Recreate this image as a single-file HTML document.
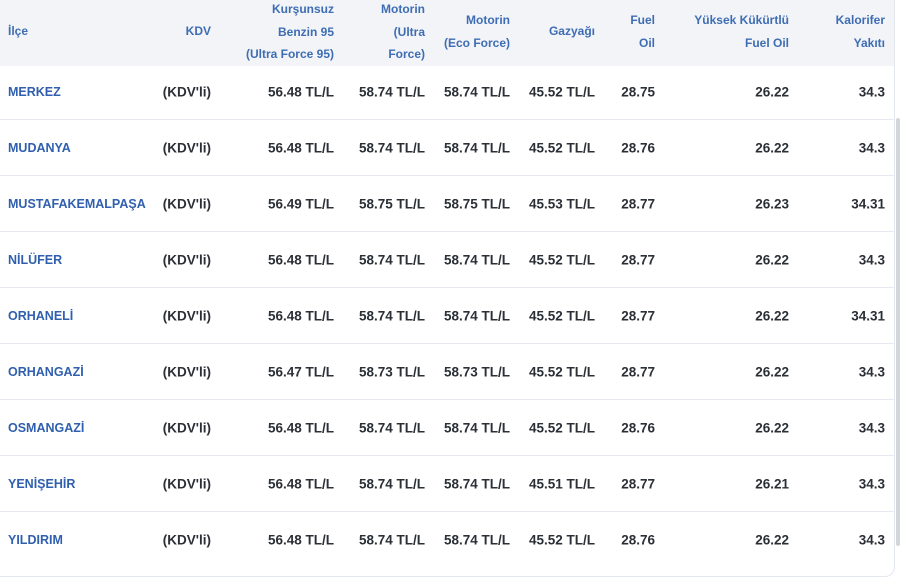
<!DOCTYPE html>
<html><head><meta charset="utf-8"><style>
body{margin:0;width:900px;height:578px;background:#fff;font-family:"Liberation Sans",sans-serif;overflow:hidden;position:relative}
.wrap{position:absolute;left:0;top:-10px;width:894px;height:585px;border:1px solid #e3e7ee;border-left:none;border-radius:0 10px 10px 0;overflow:hidden}
.hdr{position:absolute;left:0;top:0;width:900px;height:75px;background:#f2f4f8}
.t{position:absolute;font-size:12.5px;font-weight:bold;white-space:nowrap}
.h{color:#3e6db3;line-height:22.5px;text-align:right;font-size:12px}
.b{color:#2b2f36;transform:translateY(-50%);font-size:13.5px}
.n{color:#2f5fae;font-size:12.5px}
.sep{position:absolute;left:0;width:895px;height:1px;background:#e6e9ef}
.sb{position:absolute;left:896px;top:118px;width:4px;height:428px;background:#d3d6da;border-radius:2px}
</style></head><body>
<div class="wrap"><div class="hdr"></div></div>
<div class="sb"></div>
<div class="t h" style="left:8px;top:20px;text-align:left">İlçe</div>
<div class="t h" style="right:689px;top:20px">KDV</div>
<div class="t h" style="right:566px;top:-2px">Kurşunsuz<br>Benzin 95<br>(Ultra Force 95)</div>
<div class="t h" style="right:475px;top:-2px">Motorin<br>(Ultra<br>Force)</div>
<div class="t h" style="right:390px;top:9px">Motorin<br>(Eco Force)</div>
<div class="t h" style="right:305px;top:20px">Gazyağı</div>
<div class="t h" style="right:245px;top:9px">Fuel<br>Oil</div>
<div class="t h" style="right:111px;top:9px">Yüksek Kükürtlü<br>Fuel Oil</div>
<div class="t h" style="right:15px;top:9px">Kalorifer<br>Yakıtı</div>
<div id="rows"></div>
<script>
var d=[["MERKEZ","56.48","58.74","58.74","45.52","28.75","26.22","34.3"],
["MUDANYA","56.48","58.74","58.74","45.52","28.76","26.22","34.3"],
["MUSTAFAKEMALPAŞA","56.49","58.75","58.75","45.53","28.77","26.23","34.31"],
["NİLÜFER","56.48","58.74","58.74","45.52","28.77","26.22","34.3"],
["ORHANELİ","56.48","58.74","58.74","45.52","28.77","26.22","34.31"],
["ORHANGAZİ","56.47","58.73","58.73","45.52","28.77","26.22","34.3"],
["OSMANGAZİ","56.48","58.74","58.74","45.52","28.76","26.22","34.3"],
["YENİŞEHİR","56.48","58.74","58.74","45.51","28.77","26.21","34.3"],
["YILDIRIM","56.48","58.74","58.74","45.52","28.76","26.22","34.3"]];
var R=[689,566,475,390,305,245,111,15],h="";
d.forEach(function(r,i){var y=92+56*i;
h+='<div class="t b n" style="left:8px;top:'+y+'px">'+r[0]+'</div>';
h+='<div class="t b" style="right:689px;top:'+y+'px">(KDV\'li)</div>';
for(var j=1;j<8;j++){var v=r[j]+(j<=4?" TL/L":"");h+='<div class="t b" style="right:'+R[j]+'px;top:'+y+'px">'+v+'</div>';}
if(i<8)h+='<div class="sep" style="top:'+(119+56*i)+'px"></div>';});
document.getElementById("rows").innerHTML=h;
</script>
</body></html>
